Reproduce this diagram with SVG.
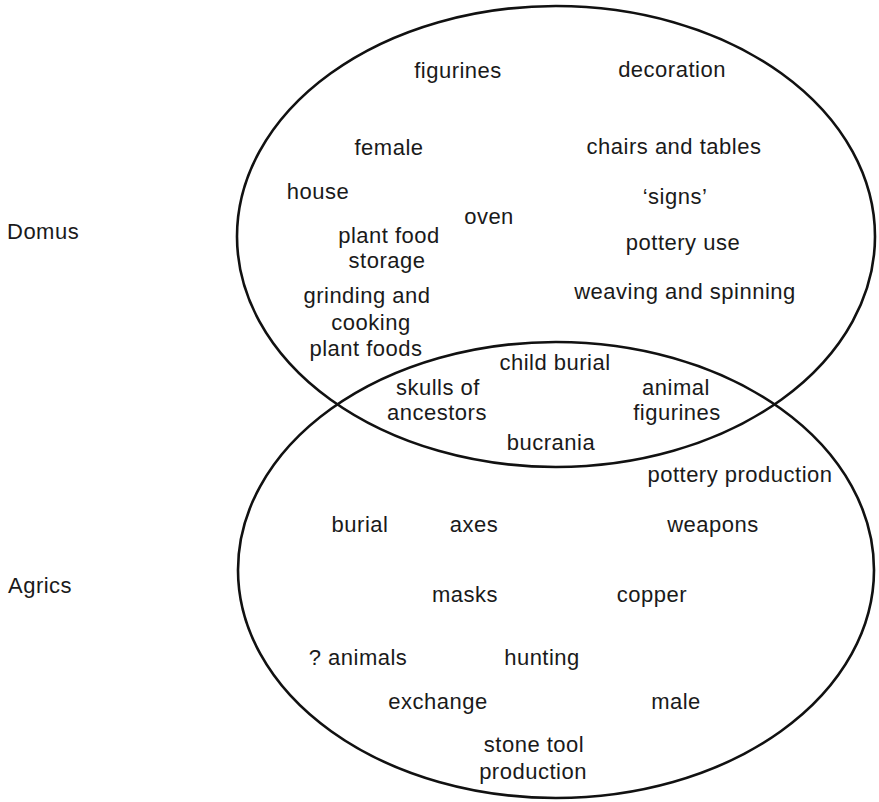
<svg xmlns="http://www.w3.org/2000/svg" width="879" height="802" viewBox="0 0 879 802">
<style>
.set{fill:none;stroke:#111;stroke-width:2.6}
text{font-family:"Liberation Sans",Arial,sans-serif;font-size:22px;letter-spacing:0.5px;fill:#1a1a1a;text-anchor:middle}
.side{text-anchor:start}
</style>
<rect width="879" height="802" fill="#fff"/>
<g id="domus">
<ellipse class="set" cx="556" cy="236.5" rx="319" ry="230.5"/>
<text class="side" x="7" y="239">Domus</text>
</g>
<g id="agrics">
<ellipse class="set" cx="556" cy="570" rx="318" ry="228"/>
<text class="side" x="8" y="593">Agrics</text>
</g>
<g id="connectors"/>
<g id="domus-items">
<text x="458" y="78">figurines</text>
<text x="672" y="77">decoration</text>
<text x="389" y="155">female</text>
<text x="674" y="154">chairs and tables</text>
<text x="318" y="199">house</text>
<text x="675" y="204">‘signs’</text>
<text x="489" y="224">oven</text>
<text x="389" y="243">plant food</text>
<text x="683" y="250">pottery use</text>
<text x="387" y="268">storage</text>
<text x="685" y="299">weaving and spinning</text>
<text x="367" y="303">grinding and</text>
<text x="371" y="330">cooking</text>
<text x="366" y="356">plant foods</text>
</g>
<g id="shared-items">
<text x="555" y="370">child burial</text>
<text x="438" y="395">skulls of</text>
<text x="437" y="420">ancestors</text>
<text x="676" y="395">animal</text>
<text x="677" y="420">figurines</text>
<text x="551" y="450">bucrania</text>
</g>
<g id="agrics-items">
<text x="740" y="482">pottery production</text>
<text x="360" y="532">burial</text>
<text x="474" y="532">axes</text>
<text x="713" y="532">weapons</text>
<text x="465" y="602">masks</text>
<text x="652" y="602">copper</text>
<text x="358" y="665">? animals</text>
<text x="542" y="665">hunting</text>
<text x="438" y="709">exchange</text>
<text x="676" y="709">male</text>
<text x="534" y="752">stone tool</text>
<text x="533" y="779">production</text>
</g>
</svg>
